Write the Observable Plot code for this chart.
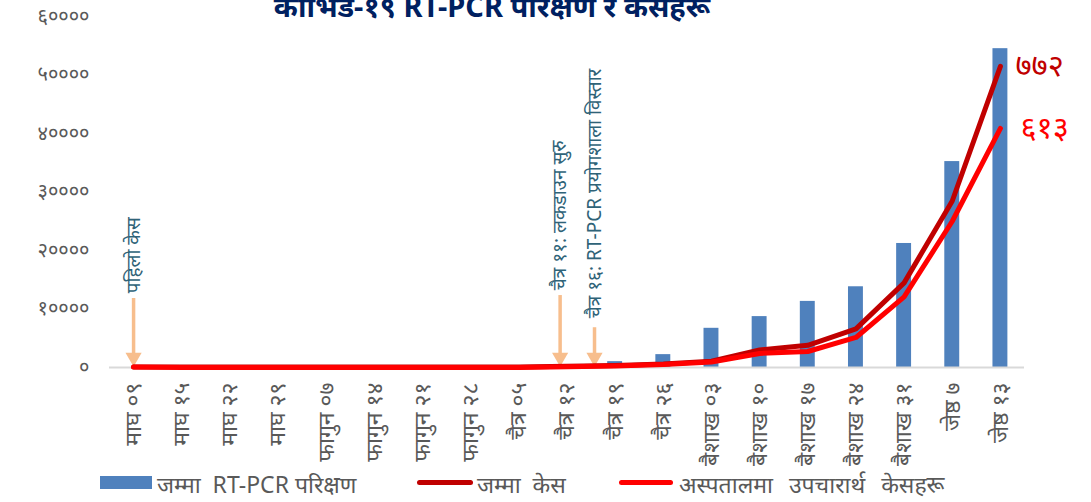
<!DOCTYPE html>
<html><head><meta charset="utf-8">
<script src="https://cdn.jsdelivr.net/npm/d3@7"></script>
<script src="https://cdn.jsdelivr.net/npm/@observablehq/plot@0.6"></script>
<style>
body{margin:0;background:#fff;font-family:"Noto Sans","Noto Sans Devanagari",sans-serif;}
#wrap{position:relative;width:1091px;height:502px;overflow:hidden;background:#fff;}
#title{position:absolute;left:0;width:984px;top:-11px;text-align:center;font-weight:bold;font-size:29px;line-height:34px;color:#002060;white-space:nowrap;}
#chart{position:absolute;left:0;top:0;}
.lg{position:absolute;font-size:23px;color:#595959;white-space:nowrap;line-height:26px;}
.sw{position:absolute;}
</style></head>
<body>
<div id="wrap">
  <div id="chart"></div>
  <div id="title">कोभिड-१९ RT-PCR परिक्षण र केसहरू</div>
  <div class="sw" style="left:100px;top:476px;width:52px;height:13px;background:#4F81BD"></div>
  <div class="lg" style="left:157px;top:471px">जम्मा &nbsp;RT-PCR परिक्षण</div>
  <div class="sw" style="left:417px;top:480px;width:56px;height:5px;border-radius:3px;background:#C00000"></div>
  <div class="lg" style="left:477px;top:471px">जम्मा &nbsp;केस</div>
  <div class="sw" style="left:619px;top:480px;width:54px;height:5px;border-radius:3px;background:#FF0000"></div>
  <div class="lg" style="left:679px;top:471px;word-spacing:2px">अस्पतालमा &nbsp;उपचारार्थ &nbsp;केसहरू</div>
</div>
<script>
const categories = ["माघ ०९","माघ १५","माघ २२","माघ २९","फागुन ०७","फागुन १४","फागुन २१","फागुन २८","चैत्र ०५","चैत्र १२","चैत्र १९","चैत्र २६","बैशाख ०३","बैशाख १०","बैशाख १७","बैशाख २४","बैशाख ३१","जेष्ठ ७","जेष्ठ १३"];
const tests = [0,0,0,0,0,0,0,0,0,0,1000,2200,6700,8700,11300,13800,21200,35200,54500];
const totalCases = [1,1,1,1,1,1,1,1,1,3,5,9,16,45,57,99,217,427,772];
const hospitalCases = [1,0,0,0,0,0,0,0,0,2,4,8,14,36,41,77,181,375,613];
const caseAxisMax = 900;      // hidden secondary axis
const testAxisMax = 60000;
const yTicks = [0,10000,20000,30000,40000,50000,60000];
const yTickLabels = ["०","१००००","२००००","३००००","४००००","५००००","६००००"];
const eventPos = [0, 8 + 6/7, 9 + 4/7];   // week index + days/7
const eventLabels = ["पहिलो केस","चैत्र ११: लकडाउन सुरु","चैत्र १६: RT-PCR प्रयोगशाला विस्तार"];
const eventArrowTop = [11800, 12300, 6800];
const eventTextBase = [12700, 13200, 8400];

const devaDigits = "०१२३४५६७८९";
const toDeva = n => String(n).replace(/\d/g, d => devaDigits[+d]);
const k = testAxisMax / caseAxisMax;
const data = categories.map((c, i) => ({i, c, tests: tests[i], total: totalCases[i], hosp: hospitalCases[i]}));
const events = eventPos.map((p, j) => ({pos: p, label: eventLabels[j], top: eventArrowTop[j], base: eventTextBase[j]}));
const last = data[data.length - 1];
const font = '"Noto Sans","Noto Sans Devanagari",sans-serif';
const arrowColor = "#F7BE8D";

const chart = Plot.plot({
  width: 1091, height: 478,
  marginTop: 16, marginBottom: 111, marginLeft: 109, marginRight: 67,
  style: {fontFamily: font, background: "transparent", color: "#595959"},
  x: {domain: [-0.5, categories.length - 0.5], axis: null},
  y: {domain: [0, testAxisMax], axis: null},
  marks: [
    Plot.axisX({ticks: d3.range(categories.length), tickFormat: i => categories[i], tickRotate: -90, tickSize: 0, tickPadding: 15, fontSize: 23, fill: "#595959"}),
    Plot.axisY({ticks: yTicks, tickFormat: d => yTickLabels[yTicks.indexOf(d)], tickSize: 0, tickPadding: 20, fontSize: 20, fill: "#595959"}),
    Plot.rectY(data, {x1: d => d.i - 0.155, x2: d => d.i + 0.155, y: "tests", fill: "#4F81BD"}),
    Plot.ruleY([0], {stroke: "#D9D9D9", strokeWidth: 2}),
    Plot.ruleX(events, {x: "pos", y1: "top", y2: 0, stroke: arrowColor, strokeWidth: 3.5, insetBottom: 12}),
    Plot.dot(events, {x: "pos", y: 0, symbol: "triangle", r: 6, rotate: 180, fill: arrowColor, dy: -10}),
    Plot.text(events, {x: "pos", y: "base", text: "label", rotate: -90, textAnchor: "start", lineAnchor: "middle", fill: "#2F6378", fontSize: 19}),
    Plot.line(data, {x: "i", y: d => d.total * k, stroke: "#C00000", strokeWidth: 5, strokeLinejoin: "round", strokeLinecap: "round"}),
    Plot.line(data, {x: "i", y: d => d.hosp * k, stroke: "#FF0000", strokeWidth: 5, strokeLinejoin: "round", strokeLinecap: "round"}),
    Plot.text([last], {x: "i", y: d => d.total * k, text: d => toDeva(d.total), dx: 15, textAnchor: "start", fill: "#C00000", fontSize: 31}),
    Plot.text([last], {x: "i", y: d => d.hosp * k, text: d => toDeva(d.hosp), dx: 20, textAnchor: "start", fill: "#FF0000", fontSize: 31})
  ]
});
document.getElementById("chart").appendChild(chart);
</script>
</body></html>
